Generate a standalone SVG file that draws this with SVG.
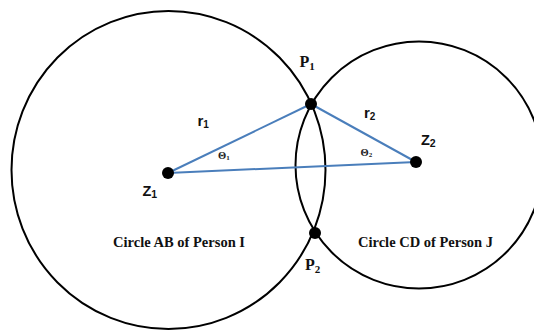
<svg xmlns="http://www.w3.org/2000/svg" width="534" height="331" viewBox="0 0 534 331">
<style>
.circ{fill:none;stroke:#000;stroke-width:2}
.ln{stroke:#4a7ebb;stroke-width:2;fill:none}
.dot{fill:#000}
.serif{font-family:"Liberation Serif","Times New Roman",serif;font-weight:bold;fill:#111}
.sans{font-family:"Liberation Sans",Arial,sans-serif;font-weight:bold;fill:#111}
.th{font-family:"Liberation Serif","Times New Roman",serif;font-weight:bold;fill:#222}
</style>
<rect width="534" height="331" fill="#fff"/>
<g id="circleAB">
<ellipse class="circ" cx="168.5" cy="170" rx="157" ry="159"/>
<text class="serif" x="113" y="247" font-size="14.5" textLength="132" lengthAdjust="spacingAndGlyphs">Circle AB of Person I</text>
</g>
<g id="circleCD">
<circle class="circ" cx="419" cy="165" r="123.5"/>
<text class="serif" x="358" y="247" font-size="14.5" textLength="135" lengthAdjust="spacingAndGlyphs">Circle CD of Person J</text>
</g>
<g id="connectors">
<line class="ln" x1="168" y1="173" x2="311" y2="104"/>
<line class="ln" x1="311" y1="104" x2="416" y2="162"/>
<line class="ln" x1="168" y1="173" x2="416" y2="162"/>
</g>
<g id="Z1">
<circle class="dot" cx="168" cy="173" r="6"/>
<text class="sans" x="142.5" y="196" font-size="14.5">Z<tspan font-size="10.5" dy="2">1</tspan></text>
</g>
<g id="Z2">
<circle class="dot" cx="416" cy="162" r="6"/>
<text class="sans" x="421" y="145" font-size="14.5">Z<tspan font-size="10.5" dy="2">2</tspan></text>
</g>
<g id="P1">
<circle class="dot" cx="311" cy="104" r="6"/>
<text class="serif" x="299.5" y="67" font-size="16">P<tspan font-size="11" dy="3">1</tspan></text>
</g>
<g id="P2">
<circle class="dot" cx="315" cy="233" r="6"/>
<text class="serif" x="305" y="270" font-size="16">P<tspan font-size="11" dy="3">2</tspan></text>
</g>
<g id="r1">
<text class="sans" x="197.5" y="126" font-size="15">r<tspan font-size="10" dy="2">1</tspan></text>
</g>
<g id="r2">
<text class="sans" x="364" y="118" font-size="15">r<tspan font-size="10" dy="2">2</tspan></text>
</g>
<g id="theta1">
<text class="th" x="218" y="158.5" font-size="10.5">Θ<tspan font-size="7" dy="1">1</tspan></text>
</g>
<g id="theta2">
<text class="th" x="360.5" y="155.5" font-size="10.5">Θ<tspan font-size="7" dy="1">2</tspan></text>
</g>
</svg>
